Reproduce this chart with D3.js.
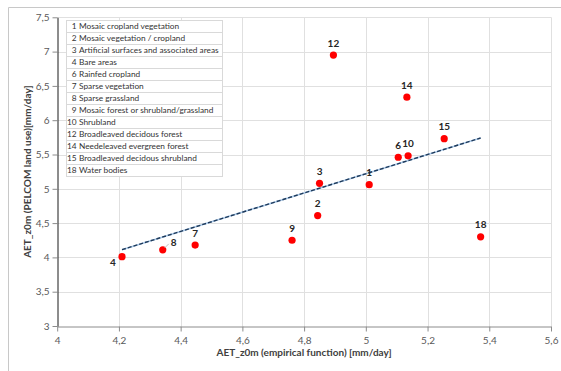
<!DOCTYPE html>
<html>
<head>
<meta charset="utf-8">
<script src="https://cdn.jsdelivr.net/npm/d3@7"></script>
<style>
  html, body { margin: 0; padding: 0; background: #fff; }
  svg { display: block; font-family: Lato, "Open Sans", sans-serif; }
</style>
</head>
<body>
<svg id="chart" width="561" height="371"></svg>
<script>
// land cover classes
const classIds = [1, 2, 3, 4, 6, 7, 8, 9, 10, 12, 14, 15, 18];
const classNames = [
  "Mosaic cropland vegetation",
  "Mosaic vegetation / cropland",
  "Artificial surfaces and associated areas",
  "Bare areas",
  "Rainfed cropland",
  "Sparse vegetation",
  "Sparse grassland",
  "Mosaic forest or shrubland/grassland",
  "Shrubland",
  "Broadleaved decidous forest",
  "Needeleaved evergreen forest",
  "Broadleaved decidous shrubland",
  "Water bodies"
];
// AET_z0m empirical function (x) vs PELCOM land use (y)
const aetEmpirical = [5.011, 4.844, 4.850, 4.210, 5.105, 4.447, 4.342, 4.761, 5.137, 4.895, 5.133, 5.254, 5.372];
const aetPelcom    = [5.06, 4.61, 5.08, 4.01, 5.46, 4.18, 4.11, 4.25, 5.48, 6.95, 6.335, 5.73, 4.30];

const xTicks = [4, 4.2, 4.4, 4.6, 4.8, 5, 5.2, 5.4, 5.6];
const yTicks = [3, 3.5, 4, 4.5, 5, 5.5, 6, 6.5, 7, 7.5];

const svg = d3.select("#chart");
const W = 561, H = 371;
const margin = {top: 17.3, right: 10, bottom: 45, left: 57.2};

const locale = d3.formatLocale({decimal: ",", thousands: ".", grouping: [3], currency: ["", ""]});
const fmt = locale.format("~g");

const x = d3.scaleLinear().domain([4, 5.6]).range([margin.left, W - margin.right]);
const y = d3.scaleLinear().domain([3, 7.5]).range([H - margin.bottom, margin.top]);

// outer chart border (cropped)
svg.append("path")
  .attr("d", `M8.5,${H} L8.5,7.5 L${W},7.5`)
  .attr("fill", "none")
  .attr("stroke", "#c8c8c8")
  .attr("stroke-width", 1);

// gridlines
const grid = svg.append("g").attr("class", "grid");
grid.selectAll(".hg")
  .data(yTicks.filter(d => d > 3))
  .enter().append("line")
  .attr("x1", x(4)).attr("x2", x(5.6))
  .attr("y1", d => Math.round(y(d)) + 0.5).attr("y2", d => Math.round(y(d)) + 0.5)
  .attr("stroke", "#e0e0e0");
grid.selectAll(".vg")
  .data(xTicks.filter(d => d > 4))
  .enter().append("line")
  .attr("y1", y(3)).attr("y2", y(7.5))
  .attr("x1", d => Math.round(x(d)) + 0.5).attr("x2", d => Math.round(x(d)) + 0.5)
  .attr("stroke", "#e0e0e0");

// axes
const xAxis = svg.append("g")
  .attr("transform", `translate(0,${Math.round(y(3)) + 0.5})`)
  .call(d3.axisBottom(x).tickValues(xTicks).tickFormat(fmt).tickSize(5).tickSizeOuter(0));
xAxis.select(".domain").attr("stroke", "#8c8c8c");
xAxis.selectAll(".tick line").attr("stroke", "#8c8c8c");
xAxis.selectAll(".tick text")
  .attr("fill", "#595959").attr("font-size", 10).attr("dy", "0.95em")
  .attr("font-family", "Lato, sans-serif");

const yAxis = svg.append("g")
  .attr("transform", `translate(${Math.round(x(4)) + 0.5},0)`)
  .call(d3.axisLeft(y).tickValues(yTicks).tickFormat(fmt).tickSize(5).tickSizeOuter(0));
yAxis.select(".domain").attr("stroke", "#1a1a1a");
yAxis.selectAll(".tick line").attr("stroke", "#8c8c8c");
yAxis.selectAll(".tick text")
  .attr("fill", "#595959").attr("font-size", 10).attr("x", -8)
  .attr("font-family", "Lato, sans-serif");

// axis titles
svg.append("text")
  .attr("x", (x(4) + x(5.6)) / 2).attr("y", 356)
  .attr("text-anchor", "middle")
  .attr("font-size", 10).attr("font-weight", "bold").attr("fill", "#404040")
  .text("AET_z0m (empirical function) [mm/day]");
svg.append("text")
  .attr("transform", `translate(31,${(y(3) + y(7.5)) / 2}) rotate(-90)`)
  .attr("text-anchor", "middle")
  .attr("font-size", 10).attr("font-weight", "bold").attr("fill", "#404040")
  .text("AET_z0m (PELCOM land use)[mm/day]");

// linear trendline (least squares over the points)
const mx = d3.mean(aetEmpirical), my = d3.mean(aetPelcom);
const sxy = d3.sum(aetEmpirical, (v, i) => (v - mx) * (aetPelcom[i] - my));
const sxx = d3.sum(aetEmpirical, v => (v - mx) * (v - mx));
const slope = sxy / sxx, icpt = my - slope * mx;
const [xMin, xMax] = d3.extent(aetEmpirical);
const trend = [[xMin, icpt + slope * xMin], [xMax, icpt + slope * xMax]];
const trendLine = d3.line().x(d => x(d[0])).y(d => y(d[1]));
svg.append("path").attr("d", trendLine(trend))
  .attr("stroke", "#a9c8e8").attr("stroke-width", 1.6).attr("fill", "none");
svg.append("path").attr("d", trendLine(trend))
  .attr("stroke", "#1f3a5a").attr("stroke-width", 1.4).attr("fill", "none")
  .attr("stroke-dasharray", "4,2");

// points
const pts = classIds.map((id, i) => ({id, x: aetEmpirical[i], y: aetPelcom[i]}));
svg.append("g").selectAll("circle")
  .data(pts).enter().append("circle")
  .attr("cx", d => x(d.x)).attr("cy", d => y(d.y))
  .attr("r", 3.6).attr("fill", "#ff0000");

// point labels; a few are nudged like in the original
const nudge = {4: [-9, 6], 8: [11, -7]};
svg.append("g").selectAll("text")
  .data(pts).enter().append("text")
  .attr("x", d => x(d.x) + (nudge[d.id] ? nudge[d.id][0] : 0))
  .attr("y", d => y(d.y) + (nudge[d.id] ? nudge[d.id][1] : -12))
  .attr("dy", "0.35em")
  .attr("text-anchor", "middle")
  .attr("font-size", 10).attr("font-weight", "bold").attr("fill", "#262626")
  .text(d => d.id);
// leader line for label 8
const p8 = pts.find(d => d.id === 8);
svg.append("line")
  .attr("x1", x(p8.x) + 2).attr("y1", y(p8.y) - 2)
  .attr("x2", x(p8.x) + 6).attr("y2", y(p8.y) - 6)
  .attr("stroke", "#bfbfbf");

// legend table
const lg = svg.append("g").attr("transform", "translate(66.5,20.5)");
const rowH = 12, lgW = 156;
lg.append("rect").attr("width", lgW).attr("height", rowH * classIds.length)
  .attr("fill", "#fff").attr("stroke", "#d9d9d9");
lg.selectAll(".rowline").data(classIds.slice(1)).enter().append("line")
  .attr("x1", 0).attr("x2", lgW)
  .attr("y1", (d, i) => (i + 1) * rowH).attr("y2", (d, i) => (i + 1) * rowH)
  .attr("stroke", "#d9d9d9");
const rows = lg.selectAll(".row").data(classIds).enter().append("g")
  .attr("transform", (d, i) => `translate(0,${i * rowH + rowH / 2})`);
rows.append("text").attr("x", 10).attr("dy", "0.35em")
  .attr("text-anchor", "end").attr("font-size", 8.3).attr("fill", "#333")
  .text(d => d);
rows.append("text").attr("x", 12.5).attr("dy", "0.35em")
  .attr("font-size", 8.3).attr("fill", "#333")
  .text((d, i) => classNames[i]);
</script>
</body>
</html>
